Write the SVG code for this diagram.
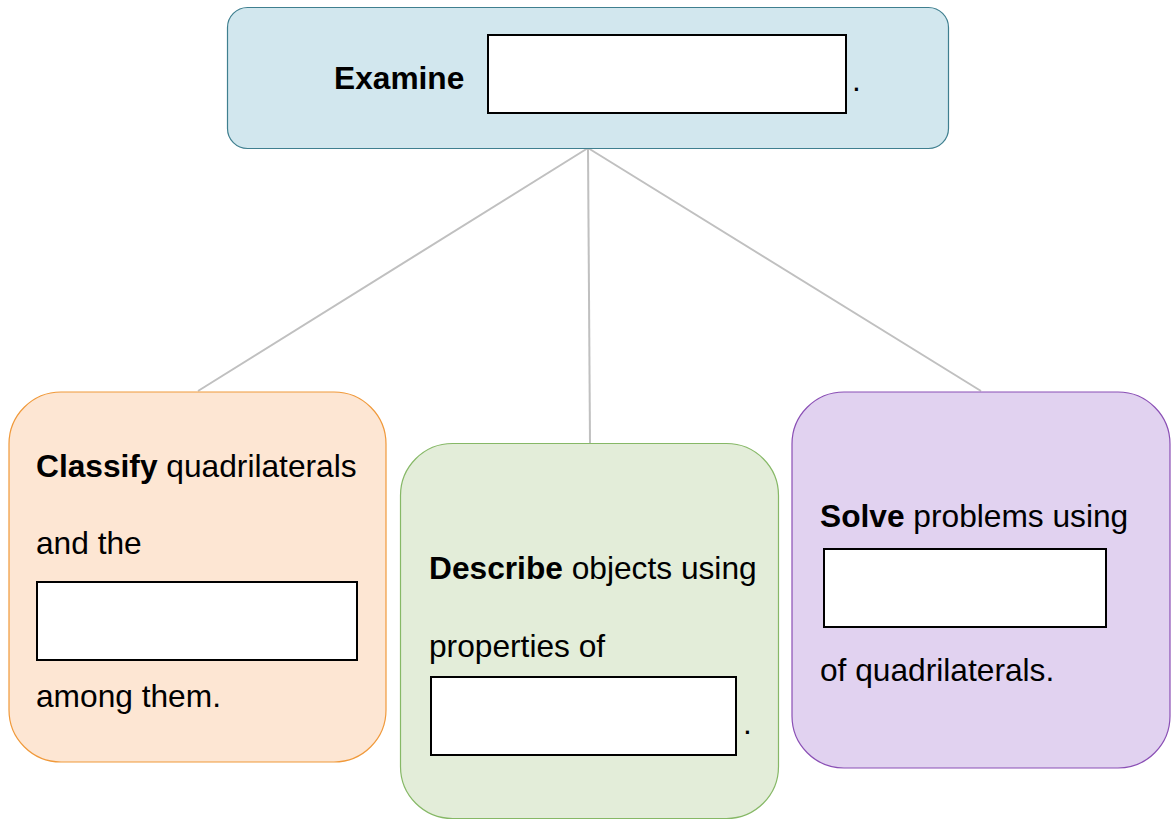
<svg xmlns="http://www.w3.org/2000/svg" width="1173" height="820" viewBox="0 0 1173 820">
<style>
text{font-family:"Liberation Sans",Arial,sans-serif;font-size:31.7px;fill:#000}
.b{font-weight:bold}
.blank{fill:#fff;stroke:#000;stroke-width:2}
.conn{stroke:#c0c0c0;stroke-width:2;fill:none}
</style>
<rect width="1173" height="820" fill="#fff"/>
<g id="connectors">
<line class="conn" x1="588" y1="148" x2="198" y2="391"/>
<line class="conn" x1="588" y1="148" x2="590" y2="443"/>
<line class="conn" x1="588" y1="148" x2="981" y2="391"/>
</g>
<g id="examine">
<rect x="227.5" y="7.5" width="721" height="141" rx="20" fill="#d2e7ee" stroke="#3f7f8f" stroke-width="1.2"/>
<text x="334" y="89" class="b">Examine</text>
<rect class="blank" x="488" y="35" width="358" height="78"/>
<text x="852" y="91">.</text>
</g>
<g id="classify">
<rect x="9" y="392" width="377" height="370" rx="52" fill="#fde6d3" stroke="#f0993a" stroke-width="1.2"/>
<text x="36" y="477"><tspan class="b">Classify</tspan> quadrilaterals</text>
<text x="36" y="554">and the</text>
<rect class="blank" x="37" y="582" width="320" height="78"/>
<text x="36" y="707">among them.</text>
</g>
<g id="describe">
<rect x="400.5" y="443.5" width="378" height="375" rx="52" fill="#e3edd9" stroke="#86b866" stroke-width="1.2"/>
<text x="429" y="579"><tspan class="b">Describe</tspan> objects using</text>
<text x="429" y="657">properties of</text>
<rect class="blank" x="431" y="677" width="305" height="78"/>
<text x="743" y="734">.</text>
</g>
<g id="solve">
<rect x="792" y="392" width="378" height="376" rx="52" fill="#e1d2f0" stroke="#8a4fb5" stroke-width="1.2"/>
<text x="820" y="527"><tspan class="b">Solve</tspan> problems using</text>
<rect class="blank" x="824" y="549" width="282" height="78"/>
<text x="820" y="681">of quadrilaterals.</text>
</g>
</svg>
